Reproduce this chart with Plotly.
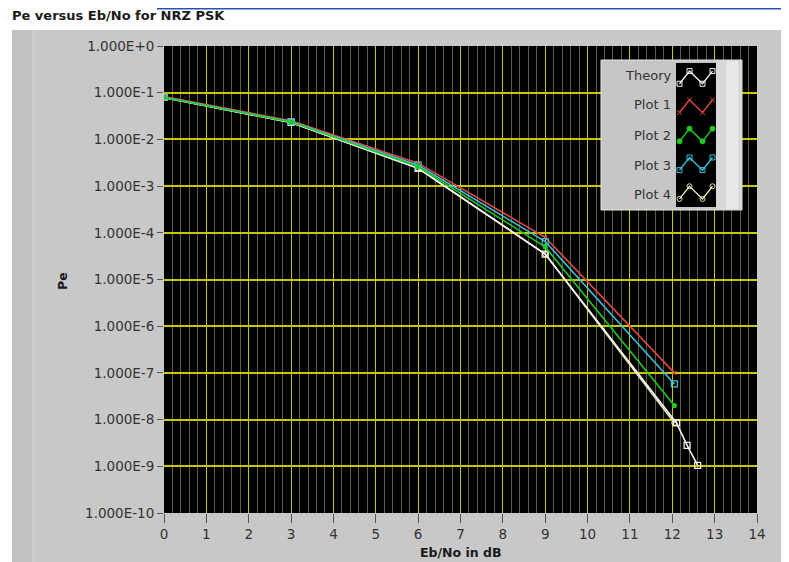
import plotly.graph_objects as go

# ---------------- data ----------------
theory_x = [0, 3, 6, 9, 12.1, 12.35, 12.6]
theory_y = [7.9e-2, 2.3e-2, 2.4e-3, 3.5e-5, 8.5e-9, 2.8e-9, 1.05e-9]

plot_x = [0, 3, 6, 9, 12.05]
plot1_y = [8.3e-2, 2.5e-2, 3.1e-3, 8.0e-5, 1.0e-7]
plot2_y = [7.9e-2, 2.35e-2, 2.6e-3, 5.0e-5, 2.0e-8]
plot3_y = [8.0e-2, 2.4e-2, 2.8e-3, 6.5e-5, 5.8e-8]
plot4_y = [7.8e-2, 2.3e-2, 2.4e-3, 3.5e-5, 8.5e-9]

series_names = ["Theory", "Plot 1", "Plot 2", "Plot 3", "Plot 4"]
series_colors = ["#f4f4f4", "#e04848", "#22c822", "#3cc0dc", "#e8e2b8"]
series_symbols = ["square-open", "x-thin-open", "circle", "square-open", "circle-open"]

y_tick_exps = list(range(0, -11, -1))
y_tick_vals = [10.0 ** e for e in y_tick_exps]
y_tick_text = ["1.000E+0"] + ["1.000E%d" % e for e in y_tick_exps[1:]]
x_tick_vals = list(range(0, 15))

# legend glyph pattern (zig-zag icon)
glyph_dx = [0.35, 1.35, 2.65, 3.65]
glyph_dy = [-0.22, 0.22, -0.22, 0.22]

# ---------------- layout geometry (page pixels) ----------------
OFF = 8                      # page body margin of the html page
PAGE_W, PAGE_H = 789, 562
W, H = PAGE_W - OFF, PAGE_H - OFF
L, R, T, B = 164, 757, 46, 513   # plot area in page pixels
PW, PH = R - L, B - T


def xp(px):
    return (px - L) / PW


def yp(py):
    return (B - py) / PH


def xd(px):  # page pixel -> x data
    return (px - L) / PW * 14.0


def yd(py):  # page pixel -> y data (log axis)
    return 10 ** (-(py - T) / PH * 10.0)


FONT = "DejaVu Sans"
TXT = "#333333"

fig = go.Figure()

trace_specs = [
    (4, plot_x, plot4_y),
    (0, theory_x, theory_y),
    (1, plot_x, plot1_y),
    (3, plot_x, plot3_y),
    (2, plot_x, plot2_y),
]
marker_sizes = {0: 6, 1: 4, 2: 4, 3: 6, 4: 5}
for idx, xs, ys in trace_specs:
    fig.add_trace(go.Scatter(
        x=xs, y=ys, mode="lines+markers", name=series_names[idx],
        line=dict(color=series_colors[idx], width=1.6),
        marker=dict(symbol=series_symbols[idx], size=marker_sizes[idx],
                    color=series_colors[idx], line=dict(width=1.2, color=series_colors[idx])),
        showlegend=False, xaxis="x", yaxis="y",
    ))

# legend glyphs on an inset subplot
for i, name in enumerate(series_names):
    cy = 4.5 - i
    fig.add_trace(go.Scatter(
        x=glyph_dx, y=[cy + d for d in glyph_dy], mode="lines+markers",
        line=dict(color=series_colors[i], width=1.4),
        marker=dict(symbol=series_symbols[i], size=5, color=series_colors[i],
                    line=dict(width=1, color=series_colors[i])),
        showlegend=False, xaxis="x2", yaxis="y2", hoverinfo="skip",
    ))

shapes = [
    # white strip on top and left of the panel
    dict(type="rect", xref="paper", yref="paper", x0=xp(0), x1=xp(PAGE_W + 5), y0=yp(30), y1=yp(-5),
         fillcolor="white", line=dict(width=0), layer="below"),
    dict(type="rect", xref="paper", yref="paper", x0=xp(-5), x1=xp(12), y0=yp(PAGE_H + 5), y1=yp(-5),
         fillcolor="white", line=dict(width=0), layer="below"),
    # panel bevels
    dict(type="rect", xref="paper", yref="paper", x0=xp(12), x1=xp(33), y0=yp(PAGE_H + 5), y1=yp(30),
         fillcolor="#c2c2c2", line=dict(width=0), layer="below"),
    dict(type="line", xref="paper", yref="paper", x0=xp(33), x1=xp(33), y0=yp(PAGE_H + 5), y1=yp(30),
         line=dict(width=1, color="#dadada"), layer="below"),
    dict(type="rect", xref="paper", yref="paper", x0=xp(781), x1=xp(785), y0=yp(PAGE_H + 5), y1=yp(30),
         fillcolor="#dedede", line=dict(width=0), layer="below"),
    dict(type="rect", xref="paper", yref="paper", x0=xp(785), x1=xp(PAGE_W + 5), y0=yp(PAGE_H + 5), y1=yp(30),
         fillcolor="#a8a8a8", line=dict(width=0), layer="below"),
    # the bottom edge of the widget box above the panel
    dict(type="line", xref="paper", yref="paper", x0=xp(157), x1=xp(784), y0=yp(OFF + 0.8), y1=yp(OFF + 0.8),
         line=dict(width=1.6, color="#2850b8"), layer="below"),
    # legend box (between grid and traces)
    dict(type="rect", xref="x", yref="y", x0=xd(601), x1=xd(742), y0=yd(210), y1=yd(60),
         fillcolor="#c6c6c6", line=dict(width=1, color="#e6e6e6"), layer="between"),
    dict(type="rect", xref="x", yref="y", x0=xd(716), x1=xd(742), y0=yd(209), y1=yd(61),
         fillcolor="#d8d8d8", line=dict(width=0), layer="between"),
    dict(type="rect", xref="x", yref="y", x0=xd(726), x1=xd(738), y0=yd(209), y1=yd(61),
         fillcolor="#e8e8e8", line=dict(width=0), layer="between"),
    dict(type="rect", xref="x", yref="y", x0=xd(676), x1=xd(716), y0=yd(207), y1=yd(63),
         fillcolor="black", line=dict(width=0), layer="between"),
]

row_py = [75, 105, 135, 165, 195]
annotations = [
    dict(text="<b>Pe versus Eb/No for NRZ PSK</b>", xref="paper", yref="paper",
         x=xp(11), y=yp(15.5), xanchor="left", yanchor="middle", showarrow=False,
         borderpad=0, font=dict(family=FONT, size=13, color="#1a1a1a")),
    dict(text="<b>Eb/No in dB</b>", xref="paper", yref="paper",
         x=0.5, y=yp(552), xanchor="center", yanchor="middle", showarrow=False,
         font=dict(family=FONT, size=12.5, color="#1a1a1a")),
    dict(text="<b>Pe</b>", xref="paper", yref="paper", textangle=-90,
         x=xp(62), y=yp(281), xanchor="center", yanchor="middle", showarrow=False,
         font=dict(family=FONT, size=12.5, color="#1a1a1a")),
]
for name, py in zip(series_names, row_py):
    annotations.append(dict(text=name, xref="paper", yref="paper", x=xp(673), y=yp(py),
                            xanchor="right", yanchor="middle", showarrow=False,
                            font=dict(family=FONT, size=13, color=TXT)))

fig.update_layout(
    width=W, height=H,
    margin=dict(l=L - OFF, r=PAGE_W - R, t=T - OFF, b=PAGE_H - B, pad=0),
    paper_bgcolor="#c8c8c8", plot_bgcolor="black",
    showlegend=False,
    font=dict(family=FONT, size=13, color=TXT),
    xaxis=dict(range=[0, 14], tickvals=x_tick_vals, ticks="outside", ticklen=9,
               tickcolor="#555555", tickwidth=1, showgrid=True, gridcolor="#c8c800",
               gridwidth=1.4, zeroline=False, showline=False,
               minor=dict(dtick=0.2, showgrid=True, gridcolor="#5c5c40", gridwidth=1, ticks=""),
               tickfont=dict(family=FONT, size=13.5, color=TXT), fixedrange=True),
    yaxis=dict(type="log", range=[-10, 0], tickvals=y_tick_vals, ticktext=y_tick_text,
               ticks="outside", ticklen=6, tickcolor="#555555", showgrid=True,
               gridcolor="#c8c800", gridwidth=1.6, zeroline=False, showline=False,
               tickfont=dict(family=FONT, size=13.5, color=TXT), fixedrange=True),
    xaxis2=dict(domain=[xp(676), xp(716)], range=[0, 4], anchor="y2", visible=False,
                fixedrange=True),
    yaxis2=dict(domain=[yp(207), yp(63)], range=[0, 5], anchor="x2", visible=False,
                fixedrange=True),
    shapes=shapes, annotations=annotations,
)

fig.write_html("out.html")
